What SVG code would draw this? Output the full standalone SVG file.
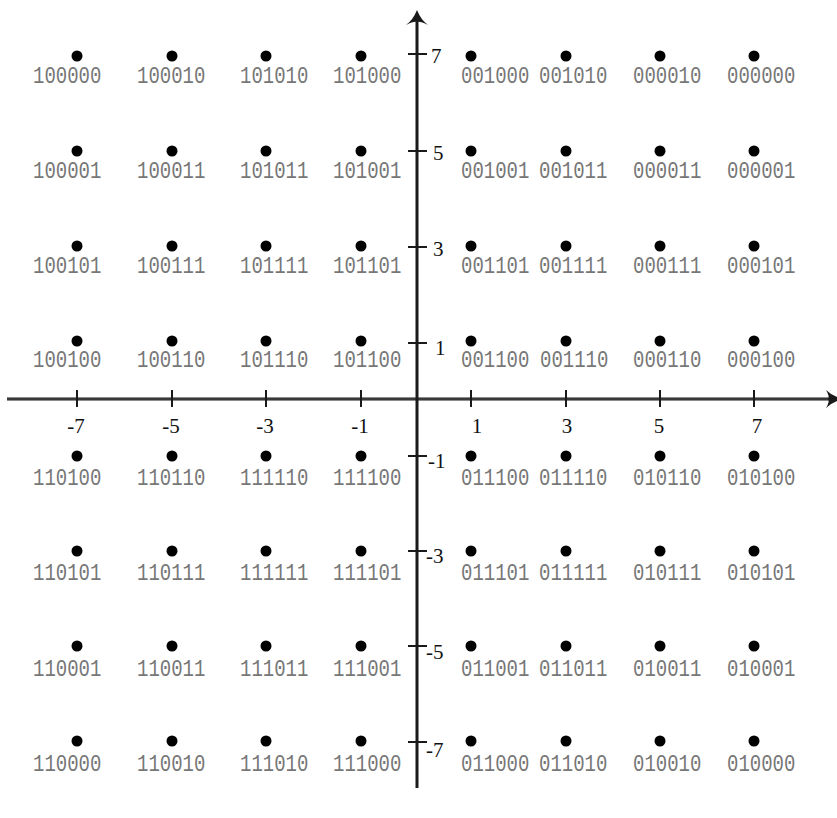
<svg xmlns="http://www.w3.org/2000/svg" width="837" height="818" viewBox="0 0 837 818">
<style>
.dot{fill:#000}
.lbl{font-family:"Liberation Mono",monospace;font-size:19px;fill:#777}
.ax{font-family:"Liberation Serif",serif;font-size:21px;fill:#111}
.axis{stroke:#1a1a1a;stroke-width:3;fill:none}
.tick{stroke:#1a1a1a;stroke-width:2;fill:none}
</style>
<rect width="837" height="818" fill="#fff"/>
<g id="connectors">
<line class="axis" x1="7" y1="399" x2="837" y2="399"/>
<line x1="7" y1="399" x2="834" y2="399" stroke="#777" stroke-width="0.7"/>
<path d="M843,399 Q832,402 826,408 Q830,401 828,399 Q830,397 826,390 Q832,396 843,399 Z" fill="#1a1a1a"/>
<line class="axis" x1="417" y1="18" x2="417" y2="788"/>
<path d="M417,10 Q421,20 428,25 Q420,21 417,22 Q414,21 406,25 Q413,20 417,10 Z" fill="#1a1a1a"/>
<g class="tick">
<line x1="77" y1="390" x2="77" y2="407"/>
<line x1="172" y1="390" x2="172" y2="407"/>
<line x1="266" y1="390" x2="266" y2="407"/>
<line x1="361" y1="390" x2="361" y2="407"/>
<line x1="471" y1="390" x2="471" y2="407"/>
<line x1="566" y1="390" x2="566" y2="407"/>
<line x1="660" y1="390" x2="660" y2="407"/>
<line x1="754" y1="390" x2="754" y2="407"/>
<line x1="408" y1="54" x2="427" y2="54"/>
<line x1="408" y1="151" x2="427" y2="151"/>
<line x1="408" y1="247" x2="427" y2="247"/>
<line x1="408" y1="343" x2="427" y2="343"/>
<line x1="408" y1="456" x2="427" y2="456"/>
<line x1="408" y1="551" x2="427" y2="551"/>
<line x1="408" y1="646" x2="427" y2="646"/>
<line x1="408" y1="742" x2="427" y2="742"/>
</g>
</g>
<g id="axis-labels">
<text class="ax" x="431" y="63">7</text>
<text class="ax" x="433" y="160">5</text>
<text class="ax" x="433" y="256">3</text>
<text class="ax" x="435" y="355">1</text>
<text class="ax" x="428" y="468">-1</text>
<text class="ax" x="426" y="563">-3</text>
<text class="ax" x="426" y="659">-5</text>
<text class="ax" x="426" y="757">-7</text>
<text class="ax" x="76" y="433" text-anchor="middle">-7</text>
<text class="ax" x="171" y="433" text-anchor="middle">-5</text>
<text class="ax" x="265" y="433" text-anchor="middle">-3</text>
<text class="ax" x="360" y="433" text-anchor="middle">-1</text>
<text class="ax" x="477" y="433" text-anchor="middle">1</text>
<text class="ax" x="567" y="433" text-anchor="middle">3</text>
<text class="ax" x="659" y="433" text-anchor="middle">5</text>
<text class="ax" x="757" y="433" text-anchor="middle">7</text>
</g>
<g id="points">
<!-- row +7 -->
<g id="p100000"><circle class="dot" cx="77" cy="56" r="5.5"/><text class="lbl" transform="translate(33,83) scale(1,1.25)">100000</text></g>
<g id="p100010"><circle class="dot" cx="172" cy="56" r="5.5"/><text class="lbl" transform="translate(137,83) scale(1,1.25)">100010</text></g>
<g id="p101010"><circle class="dot" cx="266" cy="56" r="5.5"/><text class="lbl" transform="translate(240,83) scale(1,1.25)">101010</text></g>
<g id="p101000"><circle class="dot" cx="361" cy="56" r="5.5"/><text class="lbl" transform="translate(333,83) scale(1,1.25)">101000</text></g>
<g id="p001000"><circle class="dot" cx="471" cy="56" r="5.5"/><text class="lbl" transform="translate(461,83) scale(1,1.25)">001000</text></g>
<g id="p001010"><circle class="dot" cx="566" cy="56" r="5.5"/><text class="lbl" transform="translate(539,83) scale(1,1.25)">001010</text></g>
<g id="p000010"><circle class="dot" cx="660" cy="56" r="5.5"/><text class="lbl" transform="translate(633,83) scale(1,1.25)">000010</text></g>
<g id="p000000"><circle class="dot" cx="754" cy="56" r="5.5"/><text class="lbl" transform="translate(727,83) scale(1,1.25)">000000</text></g>
<!-- row +5 -->
<g id="p100001"><circle class="dot" cx="77" cy="151" r="5.5"/><text class="lbl" transform="translate(33,178) scale(1,1.25)">100001</text></g>
<g id="p100011"><circle class="dot" cx="172" cy="151" r="5.5"/><text class="lbl" transform="translate(137,178) scale(1,1.25)">100011</text></g>
<g id="p101011"><circle class="dot" cx="266" cy="151" r="5.5"/><text class="lbl" transform="translate(240,178) scale(1,1.25)">101011</text></g>
<g id="p101001"><circle class="dot" cx="361" cy="151" r="5.5"/><text class="lbl" transform="translate(333,178) scale(1,1.25)">101001</text></g>
<g id="p001001"><circle class="dot" cx="471" cy="151" r="5.5"/><text class="lbl" transform="translate(461,178) scale(1,1.25)">001001</text></g>
<g id="p001011"><circle class="dot" cx="566" cy="151" r="5.5"/><text class="lbl" transform="translate(539,178) scale(1,1.25)">001011</text></g>
<g id="p000011"><circle class="dot" cx="660" cy="151" r="5.5"/><text class="lbl" transform="translate(633,178) scale(1,1.25)">000011</text></g>
<g id="p000001"><circle class="dot" cx="754" cy="151" r="5.5"/><text class="lbl" transform="translate(727,178) scale(1,1.25)">000001</text></g>
<!-- row +3 -->
<g id="p100101"><circle class="dot" cx="77" cy="246" r="5.5"/><text class="lbl" transform="translate(33,273) scale(1,1.25)">100101</text></g>
<g id="p100111"><circle class="dot" cx="172" cy="246" r="5.5"/><text class="lbl" transform="translate(137,273) scale(1,1.25)">100111</text></g>
<g id="p101111"><circle class="dot" cx="266" cy="246" r="5.5"/><text class="lbl" transform="translate(240,273) scale(1,1.25)">101111</text></g>
<g id="p101101"><circle class="dot" cx="361" cy="246" r="5.5"/><text class="lbl" transform="translate(333,273) scale(1,1.25)">101101</text></g>
<g id="p001101"><circle class="dot" cx="471" cy="246" r="5.5"/><text class="lbl" transform="translate(461,273) scale(1,1.25)">001101</text></g>
<g id="p001111"><circle class="dot" cx="566" cy="246" r="5.5"/><text class="lbl" transform="translate(539,273) scale(1,1.25)">001111</text></g>
<g id="p000111"><circle class="dot" cx="660" cy="246" r="5.5"/><text class="lbl" transform="translate(633,273) scale(1,1.25)">000111</text></g>
<g id="p000101"><circle class="dot" cx="754" cy="246" r="5.5"/><text class="lbl" transform="translate(727,273) scale(1,1.25)">000101</text></g>
<!-- row +1 -->
<g id="p100100"><circle class="dot" cx="77" cy="341" r="5.5"/><text class="lbl" transform="translate(33,367) scale(1,1.25)">100100</text></g>
<g id="p100110"><circle class="dot" cx="172" cy="341" r="5.5"/><text class="lbl" transform="translate(137,367) scale(1,1.25)">100110</text></g>
<g id="p101110"><circle class="dot" cx="266" cy="341" r="5.5"/><text class="lbl" transform="translate(240,367) scale(1,1.25)">101110</text></g>
<g id="p101100"><circle class="dot" cx="361" cy="341" r="5.5"/><text class="lbl" transform="translate(333,367) scale(1,1.25)">101100</text></g>
<g id="p001100"><circle class="dot" cx="471" cy="341" r="5.5"/><text class="lbl" transform="translate(461,367) scale(1,1.25)">001100</text></g>
<g id="p001110"><circle class="dot" cx="566" cy="341" r="5.5"/><text class="lbl" transform="translate(540,367) scale(1,1.25)">001110</text></g>
<g id="p000110"><circle class="dot" cx="660" cy="341" r="5.5"/><text class="lbl" transform="translate(633,367) scale(1,1.25)">000110</text></g>
<g id="p000100"><circle class="dot" cx="754" cy="341" r="5.5"/><text class="lbl" transform="translate(727,367) scale(1,1.25)">000100</text></g>
<!-- row -1 -->
<g id="p110100"><circle class="dot" cx="77" cy="456" r="5.5"/><text class="lbl" transform="translate(33,485) scale(1,1.25)">110100</text></g>
<g id="p110110"><circle class="dot" cx="172" cy="456" r="5.5"/><text class="lbl" transform="translate(137,485) scale(1,1.25)">110110</text></g>
<g id="p111110"><circle class="dot" cx="266" cy="456" r="5.5"/><text class="lbl" transform="translate(240,485) scale(1,1.25)">111110</text></g>
<g id="p111100"><circle class="dot" cx="361" cy="456" r="5.5"/><text class="lbl" transform="translate(333,485) scale(1,1.25)">111100</text></g>
<g id="p011100"><circle class="dot" cx="471" cy="456" r="5.5"/><text class="lbl" transform="translate(461,485) scale(1,1.25)">011100</text></g>
<g id="p011110"><circle class="dot" cx="566" cy="456" r="5.5"/><text class="lbl" transform="translate(539,485) scale(1,1.25)">011110</text></g>
<g id="p010110"><circle class="dot" cx="660" cy="456" r="5.5"/><text class="lbl" transform="translate(633,485) scale(1,1.25)">010110</text></g>
<g id="p010100"><circle class="dot" cx="754" cy="456" r="5.5"/><text class="lbl" transform="translate(727,485) scale(1,1.25)">010100</text></g>
<!-- row -3 -->
<g id="p110101"><circle class="dot" cx="77" cy="551" r="5.5"/><text class="lbl" transform="translate(33,580) scale(1,1.25)">110101</text></g>
<g id="p110111"><circle class="dot" cx="172" cy="551" r="5.5"/><text class="lbl" transform="translate(137,580) scale(1,1.25)">110111</text></g>
<g id="p111111"><circle class="dot" cx="266" cy="551" r="5.5"/><text class="lbl" transform="translate(240,580) scale(1,1.25)">111111</text></g>
<g id="p111101"><circle class="dot" cx="361" cy="551" r="5.5"/><text class="lbl" transform="translate(333,580) scale(1,1.25)">111101</text></g>
<g id="p011101"><circle class="dot" cx="471" cy="551" r="5.5"/><text class="lbl" transform="translate(461,580) scale(1,1.25)">011101</text></g>
<g id="p011111"><circle class="dot" cx="566" cy="551" r="5.5"/><text class="lbl" transform="translate(539,580) scale(1,1.25)">011111</text></g>
<g id="p010111"><circle class="dot" cx="660" cy="551" r="5.5"/><text class="lbl" transform="translate(633,580) scale(1,1.25)">010111</text></g>
<g id="p010101"><circle class="dot" cx="754" cy="551" r="5.5"/><text class="lbl" transform="translate(727,580) scale(1,1.25)">010101</text></g>
<!-- row -5 -->
<g id="p110001"><circle class="dot" cx="77" cy="646" r="5.5"/><text class="lbl" transform="translate(33,676) scale(1,1.25)">110001</text></g>
<g id="p110011"><circle class="dot" cx="172" cy="646" r="5.5"/><text class="lbl" transform="translate(137,676) scale(1,1.25)">110011</text></g>
<g id="p111011"><circle class="dot" cx="266" cy="646" r="5.5"/><text class="lbl" transform="translate(240,676) scale(1,1.25)">111011</text></g>
<g id="p111001"><circle class="dot" cx="361" cy="646" r="5.5"/><text class="lbl" transform="translate(333,676) scale(1,1.25)">111001</text></g>
<g id="p011001"><circle class="dot" cx="471" cy="646" r="5.5"/><text class="lbl" transform="translate(461,676) scale(1,1.25)">011001</text></g>
<g id="p011011"><circle class="dot" cx="566" cy="646" r="5.5"/><text class="lbl" transform="translate(539,676) scale(1,1.25)">011011</text></g>
<g id="p010011"><circle class="dot" cx="660" cy="646" r="5.5"/><text class="lbl" transform="translate(633,676) scale(1,1.25)">010011</text></g>
<g id="p010001"><circle class="dot" cx="754" cy="646" r="5.5"/><text class="lbl" transform="translate(727,676) scale(1,1.25)">010001</text></g>
<!-- row -7 -->
<g id="p110000"><circle class="dot" cx="77" cy="741" r="5.5"/><text class="lbl" transform="translate(33,771) scale(1,1.25)">110000</text></g>
<g id="p110010"><circle class="dot" cx="172" cy="741" r="5.5"/><text class="lbl" transform="translate(137,771) scale(1,1.25)">110010</text></g>
<g id="p111010"><circle class="dot" cx="266" cy="741" r="5.5"/><text class="lbl" transform="translate(240,771) scale(1,1.25)">111010</text></g>
<g id="p111000"><circle class="dot" cx="361" cy="741" r="5.5"/><text class="lbl" transform="translate(333,771) scale(1,1.25)">111000</text></g>
<g id="p011000"><circle class="dot" cx="471" cy="741" r="5.5"/><text class="lbl" transform="translate(461,771) scale(1,1.25)">011000</text></g>
<g id="p011010"><circle class="dot" cx="566" cy="741" r="5.5"/><text class="lbl" transform="translate(539,771) scale(1,1.25)">011010</text></g>
<g id="p010010"><circle class="dot" cx="660" cy="741" r="5.5"/><text class="lbl" transform="translate(633,771) scale(1,1.25)">010010</text></g>
<g id="p010000"><circle class="dot" cx="754" cy="741" r="5.5"/><text class="lbl" transform="translate(727,771) scale(1,1.25)">010000</text></g>
</g>
</svg>
